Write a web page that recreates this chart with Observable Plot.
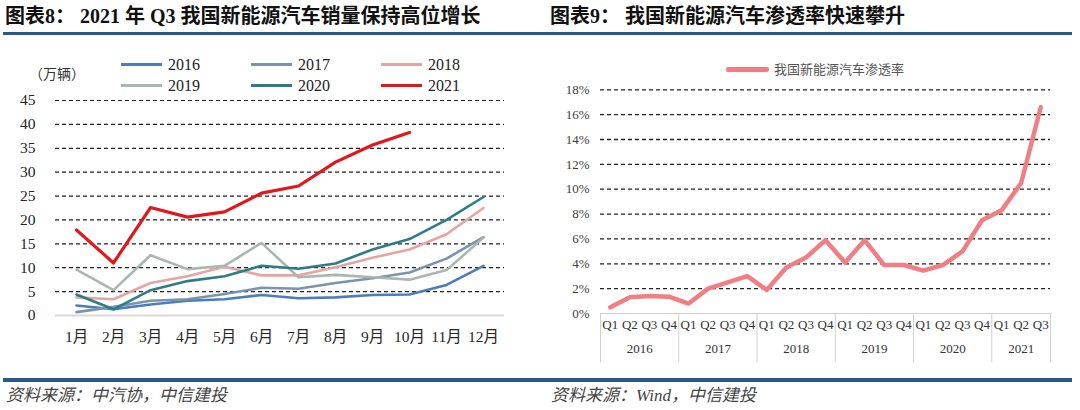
<!DOCTYPE html>
<html><head><meta charset="utf-8">
<script src="https://cdn.jsdelivr.net/npm/d3@7"></script>
<script src="https://cdn.jsdelivr.net/npm/@observablehq/plot@0.6"></script>
<style>
html,body{margin:0;padding:0;background:#fff;width:1080px;height:410px;overflow:hidden;}
#page{position:relative;width:1080px;height:410px;}
.abs{position:absolute;white-space:nowrap;}
.title{font-family:"Liberation Serif","Noto Sans CJK SC",serif;font-weight:bold;font-size:20px;color:#111;line-height:20px;}
.rule{position:absolute;background:#27598a;height:3.5px;}
.caption{font-family:"Liberation Serif","Noto Sans CJK SC",serif;font-style:italic;font-size:17px;color:#444;line-height:17px;}
.legtxt{font-family:"Liberation Serif","Noto Sans CJK SC",serif;font-size:16px;color:#222;line-height:16px;}
.legline{position:absolute;height:3px;}
</style>
</head><body><div id="page"></div>
<script>
// ---------- Left chart data (万辆) ----------
const months = ["1月","2月","3月","4月","5月","6月","7月","8月","9月","10月","11月","12月"];
const years = ["2016","2017","2018","2019","2020","2021"];
const sales2016 = [2.1, 1.3, 2.3, 3.1, 3.4, 4.3, 3.6, 3.8, 4.3, 4.4, 6.4, 10.4];
const sales2017 = [0.7, 1.8, 3.1, 3.4, 4.5, 5.8, 5.6, 6.8, 7.8, 9.0, 11.9, 16.4];
const sales2018 = [3.8, 3.4, 6.8, 8.2, 10.2, 8.4, 8.4, 10.1, 12.1, 13.8, 17.0, 22.5];
const sales2019 = [9.6, 5.3, 12.6, 9.7, 10.4, 15.2, 8.0, 8.5, 8.0, 7.5, 9.5, 16.3];
const sales2020 = [4.4, 1.3, 5.3, 7.2, 8.2, 10.4, 9.8, 10.9, 13.8, 16.0, 20.0, 24.8];
const sales2021 = [17.9, 11.0, 22.6, 20.6, 21.7, 25.6, 27.1, 32.1, 35.7, 38.3];
const leftYTicks = [0, 5, 10, 15, 20, 25, 30, 35, 40, 45];

// ---------- Right chart data (%) ----------
const quarterLabels = ["Q1","Q2","Q3","Q4","Q1","Q2","Q3","Q4","Q1","Q2","Q3","Q4","Q1","Q2","Q3","Q4","Q1","Q2","Q3","Q4","Q1","Q2","Q3"];
const yearLabels = ["2016","2017","2018","2019","2020","2021"];
const quartersPerYear = [4, 4, 4, 4, 4, 3];
const penetration = [0.5, 1.3, 1.4, 1.35, 0.8, 2.0, 2.5, 3.0, 1.9, 3.7, 4.5, 5.9, 4.1, 5.9, 3.9, 3.9, 3.45, 3.9, 5.0, 7.5, 8.3, 10.5, 16.6];
const rightYTicks = [0, 2, 4, 6, 8, 10, 12, 14, 16, 18];

// ---------- styles ----------
const seriesColors = ["#4a7ebb", "#7b93ad", "#e8a3a3", "#a9b7b1", "#2e7d86", "#e3161c"];
const penColor = "#f17e82";
const serif = '"Liberation Serif","Noto Sans CJK SC",serif';

const page = document.getElementById("page");
function addDiv(cls, text, css) {
  const d = document.createElement("div");
  d.className = cls;
  if (text != null) d.textContent = text;
  Object.assign(d.style, css);
  page.appendChild(d);
  return d;
}

// titles, rules, captions
addDiv("abs title", "图表8： 2021 年 Q3 我国新能源汽车销量保持高位增长", {left: "5px", top: "6px"});
addDiv("abs title", "图表9： 我国新能源汽车渗透率快速攀升", {left: "550px", top: "6px"});
addDiv("rule", null, {left: "3px", top: "31.5px", width: "1069px"});
addDiv("rule", null, {left: "3px", top: "378px", width: "1069px"});
addDiv("abs caption", "资料来源：中汽协，中信建投", {left: "6px", top: "387px"});
addDiv("abs caption", "资料来源：Wind，中信建投", {left: "551px", top: "387px"});

// ---------- Left chart ----------
const salesBy = [sales2016, sales2017, sales2018, sales2019, sales2020, sales2021];
const rows = [];
years.forEach((y, i) => salesBy[i].forEach((v, j) => rows.push({year: y, month: months[j], value: v})));

const left = Plot.plot({
  width: 540, height: 270,
  marginTop: 10, marginBottom: 45, marginLeft: 55, marginRight: 36,
  style: {background: "transparent", fontFamily: serif, fontSize: "15.5px", color: "#262626"},
  x: {type: "point", domain: months, padding: 0.5, label: null, tickSize: 0, tickPadding: 15},
  y: {domain: [0, 45], ticks: leftYTicks, label: null, tickSize: 0, tickPadding: 20},
  color: {domain: years, range: seriesColors},
  marks: [
    Plot.ruleY(leftYTicks.filter(d => d > 0), {stroke: "#222", strokeDasharray: "4,3", strokeWidth: 1.2}),
    Plot.ruleY([0], {stroke: "#d9d9d9", strokeWidth: 2}),
    Plot.line(rows.filter(d => d.year !== "2021"), {x: "month", y: "value", z: "year", stroke: "year", strokeWidth: 2.6, strokeLinejoin: "round"}),
    Plot.line(rows.filter(d => d.year === "2021"), {x: "month", y: "value", stroke: "year", strokeWidth: 3.2, strokeLinejoin: "round"})
  ]
});
left.style.position = "absolute";
left.style.left = "0px";
left.style.top = "90px";
page.appendChild(left);

// left legend
const legCols = [121, 251, 381];
const legRows = [64.5, 85.5];
years.forEach((y, i) => {
  const cx = legCols[i % 3], cy = legRows[Math.floor(i / 3)];
  addDiv("legline", null, {left: cx + "px", top: (cy - 1.5) + "px", width: "41px", background: seriesColors[i]});
  addDiv("abs legtxt", y, {left: (cx + 47) + "px", top: (cy - 8) + "px"});
});
addDiv("abs", "（万辆）", {left: "29px", top: "65px", fontFamily: '"Noto Sans CJK SC",sans-serif', fontSize: "14px", color: "#333", lineHeight: "16px"});

// ---------- Right chart ----------
const rowsR = penetration.map((v, i) => ({i, q: quarterLabels[i], v}));
const groups = [];
let start = 0;
const boundaries = [-0.5];
yearLabels.forEach((y, k) => {
  const n = quartersPerYear[k];
  groups.push({year: y, center: start + (n - 1) / 2});
  start += n;
  boundaries.push(start - 0.5);
});

const right = Plot.plot({
  width: 540, height: 300,
  marginTop: 9.3, marginBottom: 67, marginLeft: 60, marginRight: 30,
  style: {background: "transparent", fontFamily: serif, fontSize: "13px", color: "#404040"},
  x: {domain: [-0.5, penetration.length - 0.5], ticks: boundaries, tickSize: 49, tickFormat: () => "", label: null},
  y: {domain: [0, 18], ticks: rightYTicks, tickFormat: d => d + "%", tickSize: 0, tickPadding: 11, label: null},
  marks: [
    Plot.ruleY(rightYTicks.filter(d => d > 0), {stroke: "#222", strokeDasharray: "4,3", strokeWidth: 1.3}),
    Plot.ruleY([0], {stroke: "#d0d0d0", strokeWidth: 1}),
    Plot.line(rowsR, {x: "i", y: "v", stroke: penColor, strokeWidth: 4.5, strokeLinejoin: "round", strokeLinecap: "round"}),
    Plot.text(rowsR, {x: "i", text: "q", frameAnchor: "bottom", dy: 15, fill: "#333", fontSize: 13}),
    Plot.text(groups, {x: "center", text: "year", frameAnchor: "bottom", dy: 39, fill: "#333", fontSize: 13})
  ]
});
right.querySelectorAll('g[aria-label^="x-axis"]').forEach(g => { g.style.color = "#d0d0d0"; });
right.style.position = "absolute";
right.style.left = "540px";
right.style.top = "80px";
page.appendChild(right);

// right legend
addDiv("legline", null, {left: "726px", top: "67px", width: "43px", height: "4.5px", background: penColor, borderRadius: "2px"});
addDiv("abs", "我国新能源汽车渗透率", {left: "774px", top: "61px", fontFamily: '"Noto Sans CJK SC",sans-serif', fontSize: "13px", color: "#555", lineHeight: "16px"});
</script>
</body></html>
